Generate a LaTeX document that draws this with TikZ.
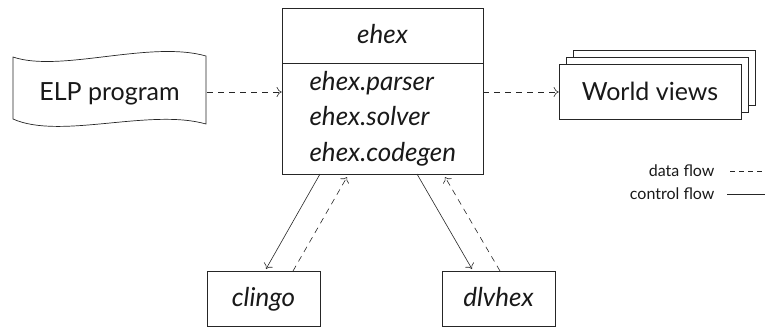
\documentclass[tikz,border=0pt]{standalone}
\usepackage{fontspec}
\setmainfont{Lato}
\usetikzlibrary{arrows.meta}
\begin{document}
\begin{tikzpicture}[x=1pt,y=-1pt,
  ln/.style={draw=black!85, line width=0.7pt},
  boxs/.style={draw=black!85, line width=0.7pt, fill=white, inner sep=0pt},
  lbl/.style={font=\fontsize{25}{30}\selectfont, text=black!90, anchor=base},
  ilbl/.style={font=\fontsize{26}{30}\selectfont\itshape, text=black!90, anchor=base},
  leg/.style={font=\fontsize{16}{18}\selectfont, text=black!90, anchor=base east},
  flow/.style={draw=black!85, -{To[length=5pt,width=10pt]}, line width=0.6pt},
  dflow/.style={flow, dash pattern=on 6pt off 5pt}]
\useasboundingbox (0,0) rectangle (765,327);
% ELP program tape
\draw[ln, fill=white] (13,57) .. controls (60,73) and (150,40) .. (206,56)
  -- (206,124) .. controls (150,108) and (60,140) .. (13,119) -- cycle;
\node[lbl] (elp) at (109.5,100) {ELP program};
\coordinate (elpE) at (207,92);
% ehex
\node[boxs, minimum width=201pt, minimum height=166pt] (ehex) at (382.5,91) {};
\draw[ln] (282,63) -- (483,63);
\node[ilbl] (t0) at (382.5,43) {ehex};
\node[ilbl, anchor=base west] (t1) at (306,90) {ehex.parser};
\node[ilbl, anchor=base west] (t2) at (306,125.5) {ehex.solver};
\node[ilbl, anchor=base west] (t3) at (306,161) {ehex.codegen};
% world views
\node[boxs, minimum width=182pt, minimum height=55pt] (w3) at (664,77.5) {};
\node[boxs, minimum width=182pt, minimum height=55pt] (w2) at (657,84.5) {};
\node[boxs, minimum width=182pt, minimum height=55pt] (w1) at (650,91.5) {};
\node[lbl] (wt) at (650,100) {World views};
% clingo, dlvhex
\node[boxs, minimum width=113pt, minimum height=55pt] (cl) at (263.5,298.5) {};
\node[ilbl] at (263.5,306) {clingo};
\node[boxs, minimum width=113pt, minimum height=55pt] (dl) at (498.5,298.5) {};
\node[ilbl] at (498.5,306) {dlvhex};
% connectors
\draw[dflow] (elpE) -- (ehex.west |- elpE);
\draw[dflow] (ehex.east |- elpE) -- (w1.west |- elpE);
\draw[flow] (320,174) -- (266,269);
\draw[dflow] (293,271) -- (347,177);
\draw[flow] (417,174) -- (472,269);
\draw[dflow] (500,271) -- (445,177);
% legend
\node[leg] (ld) at (718,176) {data flow};
\node[leg] (lc) at (718,199) {control flow};
\draw[ln, line width=0.6pt, dash pattern=on 5pt off 4pt] (730,171.5) -- (765,171.5);
\draw[ln, line width=0.6pt] (727,194.5) -- (765,194.5);
\end{tikzpicture}
\end{document}
